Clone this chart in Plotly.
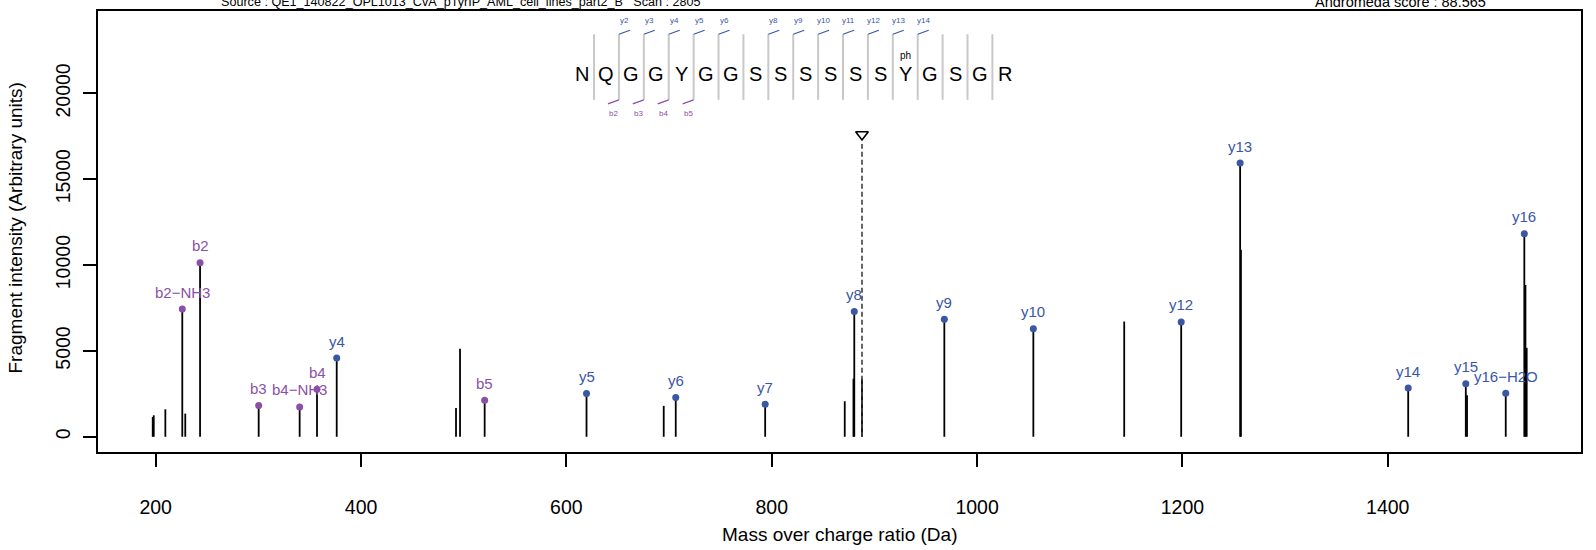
import plotly.graph_objects as go

# ---------------- data ----------------
mz = [197.1, 198.1, 209.4, 225.9, 228.8, 243.2, 300.3, 340.2, 357.1, 376.3,
      492.5, 496.4, 520.4, 619.6, 694.8, 706.5, 793.6, 871.1, 879.6, 880.4,
      887.9, 968.1, 1054.8, 1143.3, 1198.8, 1256.2, 1257.0, 1419.9, 1476.0,
      1477.2, 1514.9, 1533.0, 1534.1, 1535.3]
intensity = [1150, 1250, 1600, 7440, 1350, 10130, 1820, 1740, 2770, 4580,
             1680, 5120, 2130, 2520, 1800, 2280, 1900, 2070, 3380, 7300,
             3380, 6850, 6290, 6710, 6690, 15940, 10890, 2840, 3090,
             2420, 2530, 11820, 8840, 5180]
ion_label = ["", "", "", "b2\u2212NH3", "", "b2", "b3", "b4\u2212NH3", "b4", "y4",
             "", "", "b5", "y5", "", "y6", "y7", "", "", "y8",
             "", "y9", "y10", "", "y12", "y13", "", "y14", "y15",
             "", "y16\u2212H2O", "y16", "", ""]

precursor_mz = 887.9
precursor_marker_intensity = 17600
precursor_line_top = 17050

sequence = ["N", "Q", "G", "G", "Y", "G", "G", "S", "S", "S", "S", "S", "S",
            "Y", "G", "S", "G", "R"]
modifications = {13: "ph"}
y_marks = [2, 3, 4, 5, 6, 8, 9, 10, 11, 12, 13, 14]
b_marks = [2, 3, 4, 5]

x_ticks = [200, 400, 600, 800, 1000, 1200, 1400]
y_ticks = [0, 5000, 10000, 15000, 20000]
y_tick_text = ["0", "5000", "10000", "15000", "20000"]

source_text = "Source : QE1_140822_OPL1013_CvA_pTyrIP_AML_cell_lines_part2_B   Scan : 2805"
score_text = "Andromeda score : 88.565"

# ---------------- styles ----------------
FONT = "Liberation Sans, Arial, Helvetica, sans-serif"
B_COLOR = "#8B4FA6"
Y_COLOR = "#3A56A6"
SEP_COLOR = "#C8C8C8"

# sequence layout (in axis units)
seq_x0 = 614.8
seq_step = 24.25
seq_y = 21150
sep_top = 23440
sep_bot = 19620
mark_dx = 10.7
mark_dy = 232
ylab_y = 24240
blab_y = 18800
mod_y = 22230

fig = go.Figure()

# peak sticks
sx, sy = [], []
for m, h in zip(mz, intensity):
    sx += [m, m, None]
    sy += [0, h, None]
fig.add_trace(go.Scatter(x=sx, y=sy, mode="lines",
                         line=dict(color="black", width=1.8),
                         hoverinfo="skip", showlegend=False))

# precursor
fig.add_trace(go.Scatter(x=[precursor_mz, precursor_mz], y=[0, precursor_line_top],
                         mode="lines", line=dict(color="#404040", width=1.6, dash="5px,3px"),
                         showlegend=False, hoverinfo="skip"))
fig.add_trace(go.Scatter(x=[precursor_mz], y=[precursor_marker_intensity], mode="markers",
                         marker=dict(symbol="triangle-down-open", size=11, color="black",
                                     line=dict(width=1.6, color="black")),
                         showlegend=False, hoverinfo="skip"))

# ion dots + labels
annotations = []
for typ, col in (("b", B_COLOR), ("y", Y_COLOR)):
    xs = [m for m, l in zip(mz, ion_label) if l.startswith(typ)]
    ys = [h for h, l in zip(intensity, ion_label) if l.startswith(typ)]
    fig.add_trace(go.Scatter(x=xs, y=ys, mode="markers",
                             marker=dict(color=col, size=7),
                             showlegend=False, hoverinfo="skip"))
for m, h, l in zip(mz, intensity, ion_label):
    if l:
        col = B_COLOR if l.startswith("b") else Y_COLOR
        annotations.append(dict(x=m, y=h, xref="x", yref="y", text=l, showarrow=False,
                                yshift=17, yanchor="middle",
                                font=dict(family=FONT, size=15, color=col)))

# sequence
shapes = []
for i, aa in enumerate(sequence):
    annotations.append(dict(x=seq_x0 + i * seq_step, y=seq_y, xref="x", yref="y",
                            text=aa, showarrow=False, yanchor="middle",
                            font=dict(family=FONT, size=20, color="black")))
    if i in modifications:
        annotations.append(dict(x=seq_x0 + i * seq_step, y=mod_y, xref="x", yref="y",
                                text=modifications[i], showarrow=False, yanchor="middle",
                                font=dict(family=FONT, size=10, color="black")))
for i in range(len(sequence) - 1):
    xs = seq_x0 + (i + 0.5) * seq_step
    shapes.append(dict(type="line", xref="x", yref="y", x0=xs, x1=xs,
                       y0=sep_bot, y1=sep_top, line=dict(color=SEP_COLOR, width=2)))
for k in y_marks:
    xs = seq_x0 + (k - 1 + 0.5) * seq_step
    shapes.append(dict(type="line", xref="x", yref="y", x0=xs, x1=xs + mark_dx,
                       y0=sep_top, y1=sep_top + mark_dy, line=dict(color=Y_COLOR, width=1.2)))
    annotations.append(dict(x=xs + mark_dx / 2, y=ylab_y, xref="x", yref="y",
                            text="y%d" % k, showarrow=False, yanchor="middle",
                            font=dict(family=FONT, size=8, color=Y_COLOR)))
for k in b_marks:
    xs = seq_x0 + (k - 1 + 0.5) * seq_step
    shapes.append(dict(type="line", xref="x", yref="y", x0=xs, x1=xs - mark_dx,
                       y0=sep_bot, y1=sep_bot - mark_dy, line=dict(color=B_COLOR, width=1.2)))
    annotations.append(dict(x=xs - mark_dx / 2, y=blab_y, xref="x", yref="y",
                            text="b%d" % k, showarrow=False, yanchor="middle",
                            font=dict(family=FONT, size=8, color=B_COLOR)))

# header texts (partly outside the page, as in the reference)
annotations.append(dict(x=0.2448, y=1, xref="paper", yref="paper", text=source_text,
                        showarrow=False, xanchor="center", yanchor="middle", yshift=9,
                        font=dict(family=FONT, size=12.6, color="black")))
annotations.append(dict(x=0.8786, y=1, xref="paper", yref="paper", text=score_text,
                        showarrow=False, xanchor="center", yanchor="middle", yshift=9,
                        font=dict(family=FONT, size=14.5, color="black")))

# axis titles
annotations.append(dict(x=0.5, y=0, xref="paper", yref="paper",
                        text="Mass over charge ratio (Da)", showarrow=False,
                        xanchor="center", yanchor="middle", yshift=-82,
                        font=dict(family=FONT, size=19, color="black")))
annotations.append(dict(x=0, y=0.5, xref="paper", yref="paper",
                        text="Fragment intensity (Arbitrary units)", showarrow=False,
                        xanchor="center", yanchor="middle", xshift=-83, yshift=3,
                        textangle=-90,
                        font=dict(family=FONT, size=19, color="black")))

fig.update_layout(
    width=1596, height=550,
    margin=dict(l=98, r=15, t=9, b=98),
    paper_bgcolor="white", plot_bgcolor="white",
    shapes=shapes, annotations=annotations,
    font=dict(family=FONT, color="black"),
    xaxis=dict(range=[143.8, 1588.2], tickvals=x_ticks, ticks="outside", ticklen=13,
               tickwidth=1.6, tickcolor="black", showline=True, linecolor="black",
               linewidth=1.6, mirror=True, showgrid=False, zeroline=False,
               tickfont=dict(family=FONT, size=19.5, color="black"),
               ticklabelstandoff=24),
    yaxis=dict(range=[-887, 24794], tickvals=y_ticks, ticktext=y_tick_text,
               ticks="outside", ticklen=13,
               tickwidth=1.6, tickcolor="black", showline=True, linecolor="black",
               linewidth=1.6, mirror=True, showgrid=False, zeroline=False,
               tickangle=-90, tickfont=dict(family=FONT, size=19.5, color="black"),
               ticklabelstandoff=5),
)

fig.write_html("out.html", config={"displayModeBar": False},
               post_script="document.body.style.margin='0px';document.body.style.overflow='hidden';")
